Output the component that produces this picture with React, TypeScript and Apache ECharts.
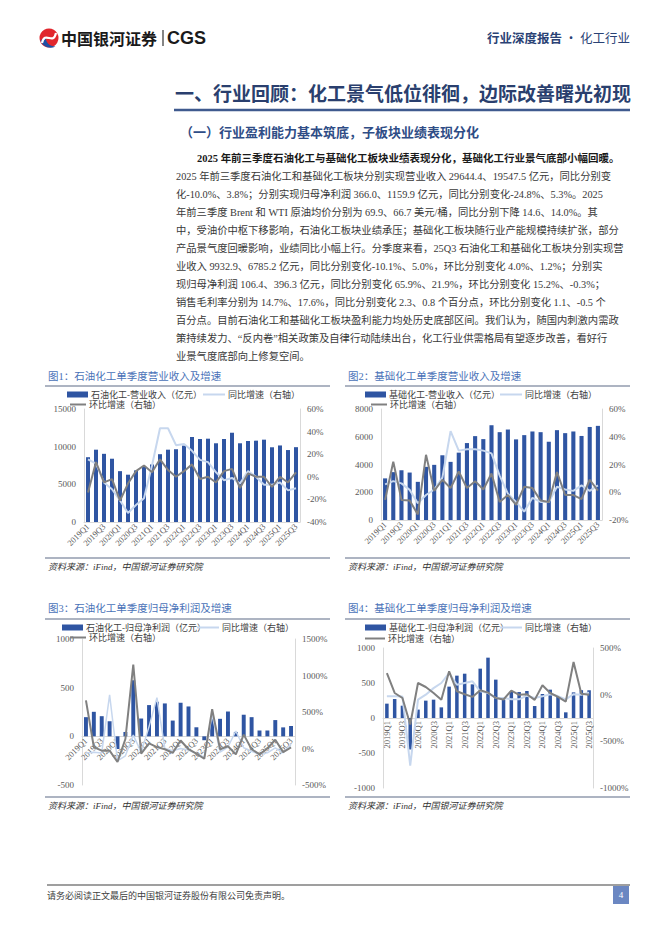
import React, { useEffect, useRef } from "react";
import * as echarts from "echarts";

const quarters = ["2019Q1","2019Q2","2019Q3","2019Q4","2020Q1","2020Q2","2020Q3","2020Q4","2021Q1","2021Q2","2021Q3","2021Q4","2022Q1","2022Q2","2022Q3","2022Q4","2023Q1","2023Q2","2023Q3","2023Q4","2024Q1","2024Q2","2024Q3","2024Q4","2025Q1","2025Q2","2025Q3"];

// 图1 石油化工 营业收入（亿元）及增速（%）
const petroRevenue = [8600, 9600, 9050, 8400, 6750, 6280, 6850, 7330, 7640, 9000, 9600, 9660, 10140, 11280, 11020, 11060, 10450, 11020, 11850, 10450, 10750, 10800, 10930, 9920, 10160, 9551, 9932.9];
const petroRevYoY = [15.5, 11.7, -5, -11, -21, -32, -25, -19, 10, 43, 43, 28, 29, 23, 15, 13, 4, -3, -1, -6, 5, 0, -7, -7, -5, -12, -10.1];
const petroRevQoQ = [-14, 13, -5, -2, -21, -6, 5, 10, 4, 15.5, 6, 0, 5, 11, -2, 0, -5, 5, 7, -10, 3, 0, 0, -9, 0, -5, 4.0];

// 图2 基础化工 营业收入（亿元）及增速（%）
const basicRevenue = [3000, 3450, 3585, 3420, 2750, 3830, 3975, 4665, 4190, 4855, 5545, 6045, 5830, 6830, 6330, 6520, 5810, 6117, 6380, 6330, 5640, 6475, 6260, 6380, 6057, 6705, 6785.2];
const basicRevYoY = [5.7, 8, 6.4, 1.7, -8, -2, 2, 10.5, 44, 30, 31, 31, 30, 28, 12, -1, -7, -14, -4, -7, -7, 4, 2, 1, 5, 1, 5.0];
const basicRevQoQ = [-5.5, 22, -5.5, -6, -16, 27, 1, 9, 3, 15, 3, 8, 2, 13.5, -7, -2, -9, 4, 3, -6, -7, 14.5, -2, -2, -5, 9, 1.2];

// 图3 石油化工 归母净利润（亿元）及增速（%）
const petroProfit = [197, 252, 207, 155, -130, 45, 576, 183, 321, 355, 338, 162, 345, 307, 93, -40, 190, 180, 255, 45, 222, 197, 60, 60, 167, 92, 106.4];
const petroProfitYoY = [-60, -50, -60, 734, -170, -100, 183, -50, 300, 697, 0, -30, 0, -20, -70, -120, 460, -50, 20, 240, 10, -40, -80, -60, 10, -60, 65.9];
const petroProfitQoQ = [660, 20, -30, -30, -185, 130, 1150, -70, 70, 20, -10, -60, 110, -10, -70, -140, 540, -10, 30, -80, 190, -10, -80, 0, 120, -50, 15.2];

// 图4 基础化工 归母净利润（亿元）及增速（%）
const basicProfit = [205, 271, 176, -450, 120, 248, 262, 152, 448, 605, 633, 481, 705, 862, 548, 262, 376, 371, 386, 171, 343, 405, 310, 81, 366, 397.5, 396.3];
const basicProfitYoY = [-18, -18, -20, -760, -54, 0, 70, 125, 232, 107, 125, 143, 36, 18, -36, -36, -50, -50, -11, -35, -18, 5, -15, -50, 5, 0, 21.9];
const basicProfitQoQ = [232, 18, -36, -320, 125, 82, 18, -54, 250, 36, 5, -24, 47, 22, -36, -52, 44, -1, 4, -56, 100, 18, -23, -74, 350, 9, -0.3];

const chartTitles = ["图1：石油化工单季度营业收入及增速", "图2：基础化工单季度营业收入及增速", "图3：石油化工单季度归母净利润及增速", "图4：基础化工单季度归母净利润及增速"];
const barNames = ["石油化工-营业收入（亿元）", "基础化工-营业收入（亿元）", "石油化工-归母净利润（亿元）", "基础化工-归母净利润（亿元）"];
const yoyName = "同比增速（右轴）";
const qoqName = "环比增速（右轴）";
const sourceText = "资料来源：iFind，中国银河证券研究院";

const headerRight = "行业深度报告";
const headerRight2 = " · 化工行业";
const heading = "一、行业回顾：化工景气低位徘徊，边际改善曙光初现";
const subHeading = "（一）行业盈利能力基本筑底，子板块业绩表现分化";
const leadLine = "2025 年前三季度石油化工与基础化工板块业绩表现分化，基础化工行业景气底部小幅回暖。";
const paragraphLines = [
  "2025 年前三季度石油化工和基础化工板块分别实现营业收入 29644.4、19547.5 亿元，同比分别变",
  "化-10.0%、3.8%；分别实现归母净利润 366.0、1159.9 亿元，同比分别变化-24.8%、5.3%。2025",
  "年前三季度 Brent 和 WTI 原油均价分别为 69.9、66.7 美元/桶，同比分别下降 14.6、14.0%。其",
  "中，受油价中枢下移影响，石油化工板块业绩承压；基础化工板块随行业产能规模持续扩张，部分",
  "产品景气度回暖影响，业绩同比小幅上行。分季度来看，25Q3 石油化工和基础化工板块分别实现营",
  "业收入 9932.9、6785.2 亿元，同比分别变化-10.1%、5.0%，环比分别变化 4.0%、1.2%；分别实",
  "现归母净利润 106.4、396.3 亿元，同比分别变化 65.9%、21.9%，环比分别变化 15.2%、-0.3%；",
  "销售毛利率分别为 14.7%、17.6%，同比分别变化 2.3、0.8 个百分点，环比分别变化 1.1、-0.5 个",
  "百分点。目前石油化工和基础化工板块盈利能力均处历史底部区间。我们认为，随国内刺激内需政",
  "策持续发力、“反内卷”相关政策及自律行动陆续出台，化工行业供需格局有望逐步改善，看好行",
  "业景气度底部向上修复空间。",
];
const footerText = "请务必阅读正文最后的中国银河证券股份有限公司免责声明。";
const pageNumber = "4";

const SERIF = "'Liberation Serif', 'Noto Sans CJK SC', serif";
const CJK = "'Noto Sans CJK SC', sans-serif";
const BAR_COLOR = "#2f55a2";
const YOY_COLOR = "#c7d7ee";
const QOQ_COLOR = "#808080";
const AXIS_COLOR = "#d9d9d9";
const LABEL_COLOR = "#595959";

// layout of the four panels
const panels = [
  { grid: { left: 84, top: 409, width: 216, height: 113 }, left: [0, 15000, 5000], right: [-40, 60, 20], rotate: 45, x0: 45, titleY: 376, lineY: 386, srcLineY: 558, srcY: 567, leg: [[67, 396, 21], [203, 396, 22], [70, 406, 16]], barW: "50%" },
  { grid: { left: 381, top: 409, width: 221, height: 111 }, left: [0, 8000, 2000], right: [-20, 60, 20], rotate: 45, x0: 345, titleY: 376, lineY: 386, srcLineY: 558, srcY: 567, leg: [[365, 396, 21], [500, 396, 22], [371, 406, 16]], barW: "50%" },
  { grid: { left: 82, top: 639, width: 213, height: 146 }, left: [-500, 1000, 500], right: [-500, 1500, 500], rotate: 45, x0: 45, titleY: 608, lineY: 619, srcLineY: 797, srcY: 806, leg: [[62, 629, 21], [197, 629, 22], [70, 639, 16]], barW: "50%" },
  { grid: { left: 383, top: 648, width: 210, height: 140 }, left: [-1000, 1000, 500], right: [-1000, 500, 500], rotate: 90, x0: 345, titleY: 608, lineY: 619, srcLineY: 797, srcY: 806, leg: [[365, 629, 21], [500, 629, 22], [365, 640, 20]], barW: "45%" },
];
const barData = [petroRevenue, basicRevenue, petroProfit, basicProfit];
const yoyData = [petroRevYoY, basicRevYoY, petroProfitYoY, basicProfitYoY];
const qoqData = [petroRevQoQ, basicRevQoQ, petroProfitQoQ, basicProfitQoQ];

echarts.graphic.registerShape(
  "logoBlue",
  echarts.graphic.extendPath("M1,13 C3,19 10,22 16,19 C10,19 6,15 6,9 C4,11 2,12 1,13 Z", {})
);

function buildOption() {
  const grids: any[] = [];
  const xAxes: any[] = [];
  const yAxes: any[] = [];
  const series: any[] = [];
  const legends: any[] = [];
  const graphics: any[] = [];

  panels.forEach((p, i) => {
    grids.push({ ...p.grid, containLabel: false });
    // place the category axis where the left value axis crosses zero
    const zeroFromBottom = p.grid.height * (0 - p.left[0]) / (p.left[1] - p.left[0]);
    xAxes.push({
      type: "category",
      gridIndex: i,
      data: quarters,
      offset: -zeroFromBottom,
      axisLine: { show: true, onZero: false, lineStyle: { color: AXIS_COLOR, width: 1 } },
      axisTick: { show: false },
      axisLabel: { interval: 1, rotate: p.rotate, fontSize: 8.5, color: LABEL_COLOR, fontFamily: SERIF, margin: 3 },
      splitLine: { show: false },
    });
    yAxes.push({
      type: "value",
      gridIndex: i,
      position: "left",
      min: p.left[0],
      max: p.left[1],
      interval: p.left[2],
      axisLine: { show: true, onZero: false, lineStyle: { color: AXIS_COLOR } },
      axisTick: { show: false },
      splitLine: { show: false },
      axisLabel: { fontSize: 9, color: LABEL_COLOR, fontFamily: SERIF, margin: 8, formatter: (v: number) => String(v) },
    });
    yAxes.push({
      type: "value",
      gridIndex: i,
      position: "right",
      min: p.right[0],
      max: p.right[1],
      interval: p.right[2],
      axisLine: { show: true, onZero: false, lineStyle: { color: AXIS_COLOR } },
      axisTick: { show: false },
      splitLine: { show: false },
      axisLabel: { fontSize: 9, color: LABEL_COLOR, fontFamily: SERIF, margin: 7, formatter: (v: number) => String(v) + "%" },
    });
    series.push({
      name: barNames[i],
      type: "bar",
      xAxisIndex: i,
      yAxisIndex: 2 * i,
      data: barData[i],
      barWidth: p.barW,
      itemStyle: { color: BAR_COLOR },
    });
    series.push({
      name: yoyName,
      type: "line",
      xAxisIndex: i,
      yAxisIndex: 2 * i + 1,
      data: yoyData[i],
      symbol: "none",
      showSymbol: false,
      lineStyle: { color: YOY_COLOR, width: i === 2 ? 1.5 : 2 },
      itemStyle: { color: YOY_COLOR },
      z: 3,
    });
    series.push({
      name: qoqName,
      type: "line",
      xAxisIndex: i,
      yAxisIndex: 2 * i + 1,
      data: qoqData[i],
      symbol: "none",
      showSymbol: false,
      lineStyle: { color: QOQ_COLOR, width: 2 },
      itemStyle: { color: QOQ_COLOR },
      z: 4,
    });
    const legNames = [barNames[i], yoyName, qoqName];
    p.leg.forEach((l, k) => {
      legends.push({
        left: l[0],
        top: l[1] - 6,
        padding: 0,
        itemGap: 0,
        itemWidth: l[2],
        itemHeight: k === 0 ? 6 : 2,
        icon: "rect",
        selectedMode: false,
        data: [{ name: legNames[k], icon: "rect" }],
        textStyle: { fontSize: 9, color: "#404040", fontFamily: SERIF, padding: [0, 0, 0, -2] },
      });
    });
    // title, rules and source
    graphics.push({ type: "text", x: p.x0 + 3, y: p.titleY, style: { text: chartTitles[i], fontSize: 10.5, fontFamily: SERIF, fill: "#4a72b8", textVerticalAlign: "middle" } });
    graphics.push({ type: "line", shape: { x1: p.x0, y1: p.lineY, x2: p.x0 + 285, y2: p.lineY }, style: { stroke: "#5d6b85", lineWidth: 1.2 } });
    graphics.push({ type: "line", shape: { x1: p.x0, y1: p.srcLineY, x2: p.x0 + 285, y2: p.srcLineY }, style: { stroke: "#5d6b85", lineWidth: 1.2 } });
    graphics.push({ type: "text", x: p.x0 + 3, y: p.srcY, style: { text: sourceText, fontSize: 9, fontStyle: "italic", fontFamily: SERIF, fill: "#333333", textVerticalAlign: "middle" } });
  });

  // header logo
  graphics.push({ type: "circle", shape: { cx: 49, cy: 38, r: 9.5 }, style: { fill: "#e1262d" } });
  graphics.push({ type: "logoBlue", x: 39.5, y: 27.5, scaleX: 1, scaleY: 1, style: { fill: "#1f4fa3" } });
  graphics.push({ type: "bezierCurve", shape: { x1: 42, y1: 43, x2: 56, y2: 33, cpx1: 45, cpy1: 30, cpx2: 53, cpy2: 46 }, style: { stroke: "#ffffff", lineWidth: 2.2, fill: null } });
  graphics.push({ type: "text", x: 61, y: 38, style: { text: "中国银河证券", fontSize: 16, fontWeight: "bold", fontFamily: CJK, fill: "#1a1a1a", textVerticalAlign: "middle" } });
  graphics.push({ type: "line", shape: { x1: 163, y1: 30, x2: 163, y2: 46 }, style: { stroke: "#333333", lineWidth: 1.2 } });
  graphics.push({ type: "text", x: 167, y: 38, style: { text: "CGS", fontSize: 18, fontWeight: "bold", fontFamily: "'Liberation Sans', Arial, sans-serif", fill: "#1a1a1a", textVerticalAlign: "middle" } });
  graphics.push({
    type: "text", x: 630, y: 37,
    style: {
      text: "{b|" + headerRight + "}{n|" + headerRight2 + "}",
      textAlign: "right", textVerticalAlign: "middle",
      rich: {
        b: { fontSize: 12.5, fontWeight: "bold", fontFamily: CJK, fill: "#2a4275" },
        n: { fontSize: 12.5, fontFamily: CJK, fill: "#2a4275" },
      },
    },
  });
  // heading
  graphics.push({ type: "text", x: 175, y: 92, style: { text: heading, fontSize: 19, fontWeight: "bold", fontFamily: CJK, fill: "#2a3f6e", textVerticalAlign: "middle" } });
  graphics.push({ type: "line", shape: { x1: 174, y1: 110, x2: 630, y2: 110 }, style: { stroke: "#3f5a8e", lineWidth: 2.5 } });
  graphics.push({ type: "text", x: 180, y: 131, style: { text: subHeading, fontSize: 13, fontWeight: "bold", fontFamily: CJK, fill: "#2f4d86", textVerticalAlign: "middle" } });
  // paragraph
  graphics.push({ type: "text", x: 197, y: 158, style: { text: leadLine, fontSize: 10.5, fontWeight: "bold", fontFamily: SERIF, fill: "#1a1a1a", textVerticalAlign: "middle" } });
  paragraphLines.forEach((t, k) => {
    graphics.push({ type: "text", x: 176, y: 176 + 18 * k, style: { text: t, fontSize: 10.3, fontFamily: SERIF, fill: "#383838", textVerticalAlign: "middle" } });
  });
  // footer
  graphics.push({ type: "line", shape: { x1: 47, y1: 885, x2: 630, y2: 885 }, style: { stroke: "#404040", lineWidth: 1.2 } });
  graphics.push({ type: "text", x: 47, y: 896, style: { text: footerText, fontSize: 9, fontFamily: SERIF, fill: "#404040", textVerticalAlign: "middle" } });
  graphics.push({ type: "rect", shape: { x: 613, y: 886, width: 16, height: 18 }, style: { fill: "#6b87c2" } });
  graphics.push({ type: "text", x: 621, y: 895, style: { text: pageNumber, fontSize: 9, fontFamily: SERIF, fill: "#ffffff", textAlign: "center", textVerticalAlign: "middle" } });

  return {
    animation: false,
    backgroundColor: "#ffffff",
    grid: grids,
    xAxis: xAxes,
    yAxis: yAxes,
    legend: legends,
    series,
    graphic: graphics,
  };
}

export default function App() {
  const ref = useRef<HTMLDivElement>(null);
  useEffect(() => {
    if (!ref.current) return;
    const chart = echarts.init(ref.current, null, { renderer: "svg" });
    chart.setOption(buildOption() as any);
    return () => chart.dispose();
  }, []);
  return <div ref={ref} style={{ position: "absolute", left: 0, top: 0, width: 662, height: 936 }} />;
}
